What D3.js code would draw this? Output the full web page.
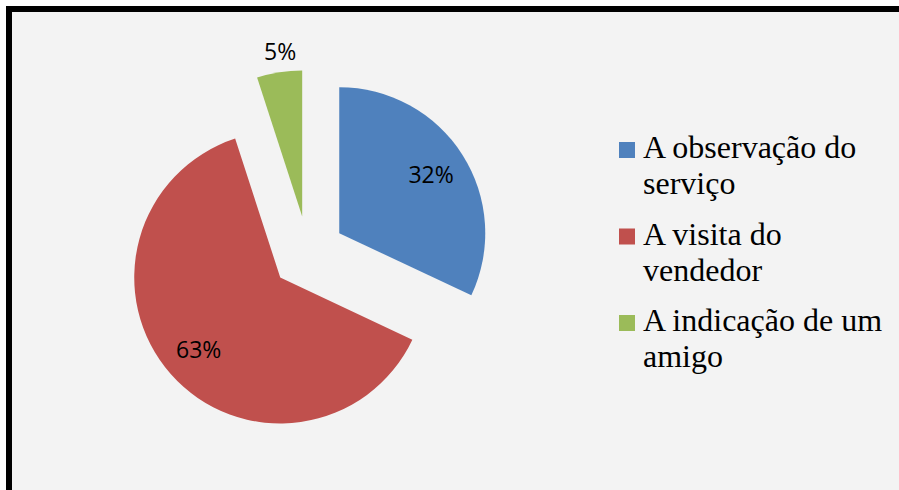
<!DOCTYPE html>
<html>
<head>
<meta charset="utf-8">
<script src="https://cdn.jsdelivr.net/npm/d3@7"></script>
<style>
  html, body { margin: 0; padding: 0; background: #ffffff; }
  svg { display: block; }
</style>
</head>
<body>
<svg id="chart" width="899" height="490"></svg>
<script>
// Sources of new clients (share of answers)
const categories = ["A observação do serviço", "A visita do vendedor", "A indicação de um amigo"];
const values = [32, 63, 5];
const labels = ["32%", "63%", "5%"];
const legendLines = [["A observação do", "serviço"], ["A visita do", "vendedor"], ["A indicação de um", "amigo"]];
const colors = ["#4f81bd", "#c0504d", "#9bbb59"];

const svg = d3.select("#chart");
const W = 899, H = 490;

// chart area with heavy black frame
svg.append("rect")
  .attr("x", 9).attr("y", 9)
  .attr("width", W + 20).attr("height", H + 20)
  .attr("fill", "#f3f3f3")
  .attr("stroke", "#000")
  .attr("stroke-width", 6);

const cx = 308, cy = 253, R = 146, explode = 37;

const pie = d3.pie().sort(null).value(d => d)(values);
const arc = d3.arc().innerRadius(0).outerRadius(R);

const g = svg.append("g").attr("transform", `translate(${cx},${cy})`);

const slices = g.selectAll("g.slice")
  .data(pie)
  .join("g")
  .attr("class", "slice")
  .attr("transform", d => {
    const m = (d.startAngle + d.endAngle) / 2;
    return `translate(${explode * Math.sin(m)},${-explode * Math.cos(m)})`;
  });

slices.append("path")
  .attr("d", arc)
  .attr("fill", (d, i) => colors[i]);

// data labels: inside the slice, or just outside for thin slices
slices.append("text")
  .attr("transform", d => {
    const m = (d.startAngle + d.endAngle) / 2;
    const small = (d.endAngle - d.startAngle) < 0.5;
    const r = small ? R + 21 : R * 0.745;
    const x = r * Math.sin(m) + (small ? 4 : 0);
    return `translate(${x},${-r * Math.cos(m)})`;
  })
  .attr("text-anchor", "middle")
  .attr("dy", "0.36em")
  .attr("font-family", "'Open Sans', sans-serif")
  .attr("font-size", 23)
  .attr("fill", "#000")
  .text((d, i) => labels[i]);

// legend
const legend = svg.append("g").attr("transform", "translate(619,142)");
const entryGap = 86.5, lineGap = 36;
const items = legend.selectAll("g.item")
  .data(categories)
  .join("g")
  .attr("class", "item")
  .attr("transform", (d, i) => `translate(0,${i * entryGap})`);

items.append("rect")
  .attr("width", 16).attr("height", 16)
  .attr("fill", (d, i) => colors[i]);

items.append("text")
  .attr("x", 24)
  .attr("y", 16)
  .attr("font-family", "'Liberation Serif', 'Times New Roman', serif")
  .attr("font-size", 32)
  .attr("fill", "#000")
  .selectAll("tspan")
  .data((d, i) => legendLines[i])
  .join("tspan")
  .attr("x", 24)
  .attr("dy", (d, j) => j === 0 ? 0 : lineGap)
  .text(d => d);
</script>
</body>
</html>
